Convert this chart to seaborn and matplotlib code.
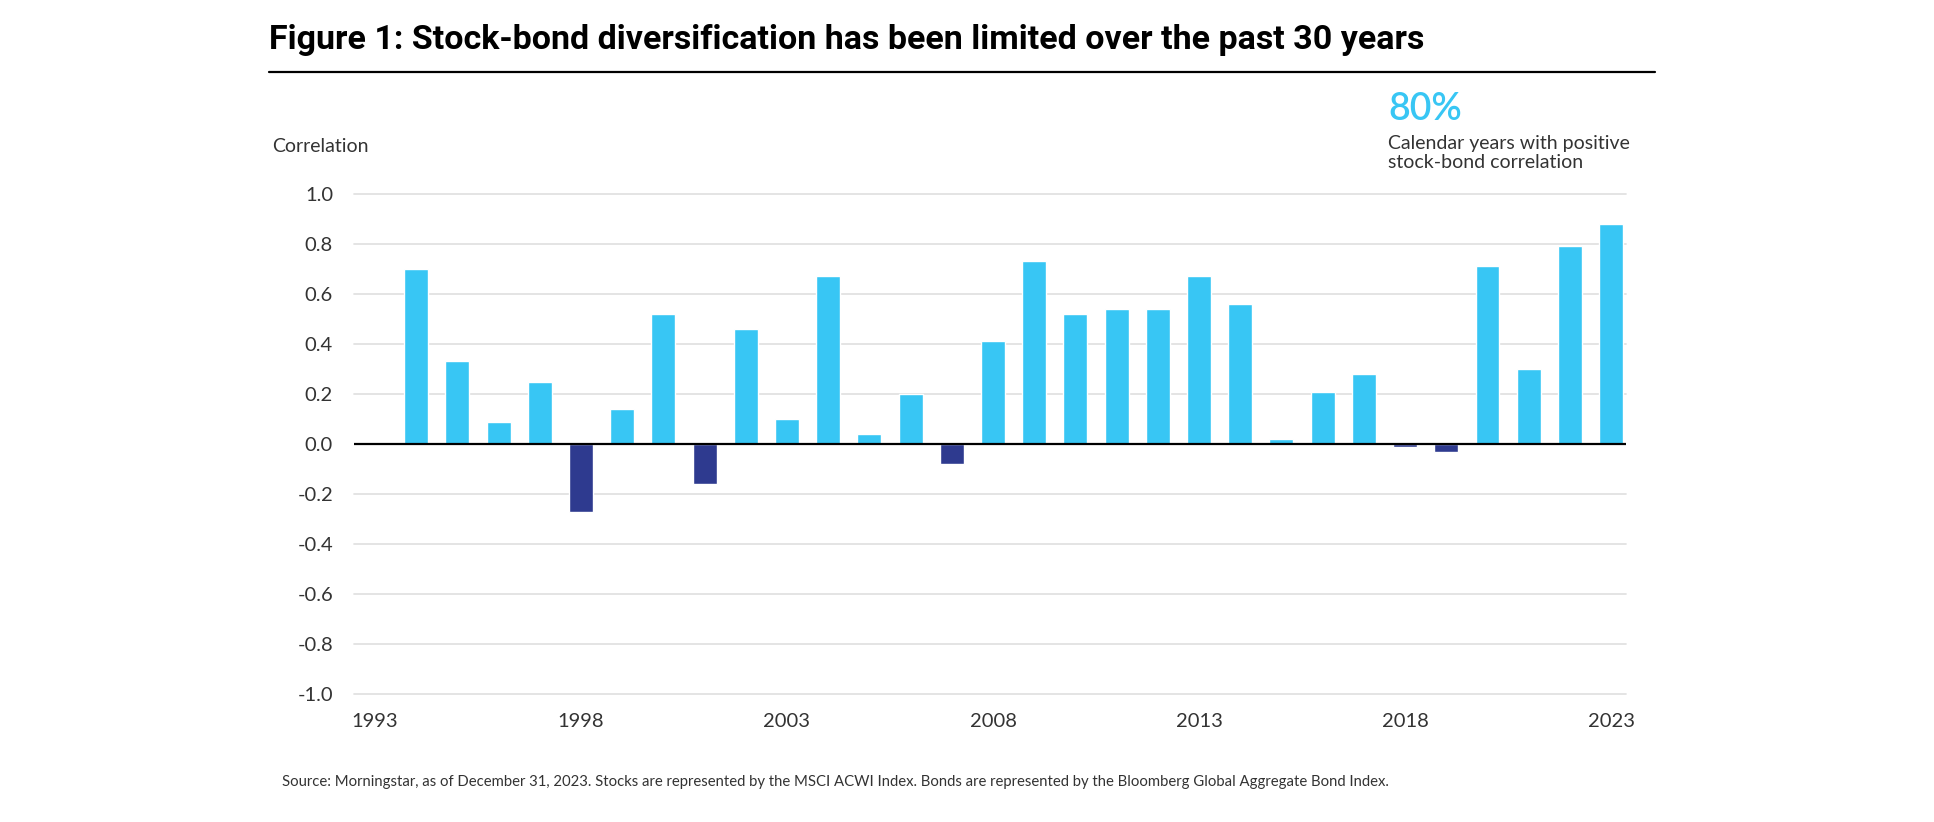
import numpy as np
import pandas as pd
import seaborn as sns
import matplotlib.pyplot as plt
from matplotlib.lines import Line2D

# Data
years = list(range(1994, 2024))
correlation = [0.70, 0.33, 0.09, 0.25, -0.27, 0.14, 0.52, -0.16, 0.46, 0.10,
               0.67, 0.04, 0.20, -0.08, 0.41, 0.73, 0.52, 0.54, 0.54, 0.67,
               0.56, 0.02, 0.21, 0.28, -0.01, -0.03, 0.71, 0.30, 0.79, 0.88]
xtick_years = [1993, 1998, 2003, 2008, 2013, 2018, 2023]
ytick_values = [1.0, 0.8, 0.6, 0.4, 0.2, 0.0, -0.2, -0.4, -0.6, -0.8, -1.0]

df = pd.DataFrame({"year": years, "corr": correlation})
df["sign"] = np.where(df["corr"] >= 0, "pos", "neg")

sns.set_style("white")
plt.rcParams["font.family"] = ["Lato", "DejaVu Sans"]

fig = plt.figure(figsize=(19.34, 8.22), dpi=100)
ax = fig.add_axes([0.183, 0.1557, 0.6577, 0.6083])

sns.barplot(data=df, x="year", y="corr", hue="sign", native_scale=True,
            dodge=False, width=0.58, legend=False, ax=ax,
            palette={"pos": "#38C6F4", "neg": "#2E3A8F"}, saturation=1)

ax.set_xlim(1992.49, 2023.36)
ax.set_ylim(-1.0, 1.0)
ax.set_yticks(ytick_values)
ax.set_yticklabels([f"{v:.1f}" for v in ytick_values])
ax.set_xticks(xtick_years)
ax.set_xticklabels([str(y) for y in xtick_years])
ax.tick_params(axis="both", length=0, labelsize=14.5, colors="#333333")
ax.tick_params(axis="y", pad=15)
ax.tick_params(axis="x", pad=14)
ax.set_xlabel("")
ax.set_ylabel("")

for v in ytick_values:
    if v != 0:
        ax.axhline(v, color="#E2E2E2", lw=1.3, zorder=0, clip_on=False)
ax.axhline(0, color="black", lw=1.6, zorder=3)
sns.despine(ax=ax, left=True, bottom=True)

# Title and rule
fig.text(0.139, 0.951, "Figure 1: Stock-bond diversification has been limited over the past 30 years",
         fontsize=24.5, fontweight="bold", family=["Roboto", "DejaVu Sans"],
         va="center", ha="left", color="black")
fig.add_artist(Line2D([0.139, 0.8557], [0.9124, 0.9124], color="black", lw=1.6,
                      transform=fig.transFigure))

fig.text(0.1406, 0.822, "Correlation", fontsize=14, color="#333333", va="center")

# Callout
fig.text(0.7177, 0.867, "80%", fontsize=27, fontweight="semibold", color="#38C6F4", va="center")
fig.text(0.7177, 0.814, "Calendar years with positive\nstock-bond correlation",
         fontsize=14, color="#333333", va="center", linespacing=1.13)

fig.text(0.1458, 0.0487,
         "Source: Morningstar, as of December 31, 2023. Stocks are represented by the MSCI ACWI Index. "
         "Bonds are represented by the Bloomberg Global Aggregate Bond Index.",
         fontsize=10.7, color="#333333", va="center")

fig.savefig("out.png", dpi=100)
plt.close(fig)
